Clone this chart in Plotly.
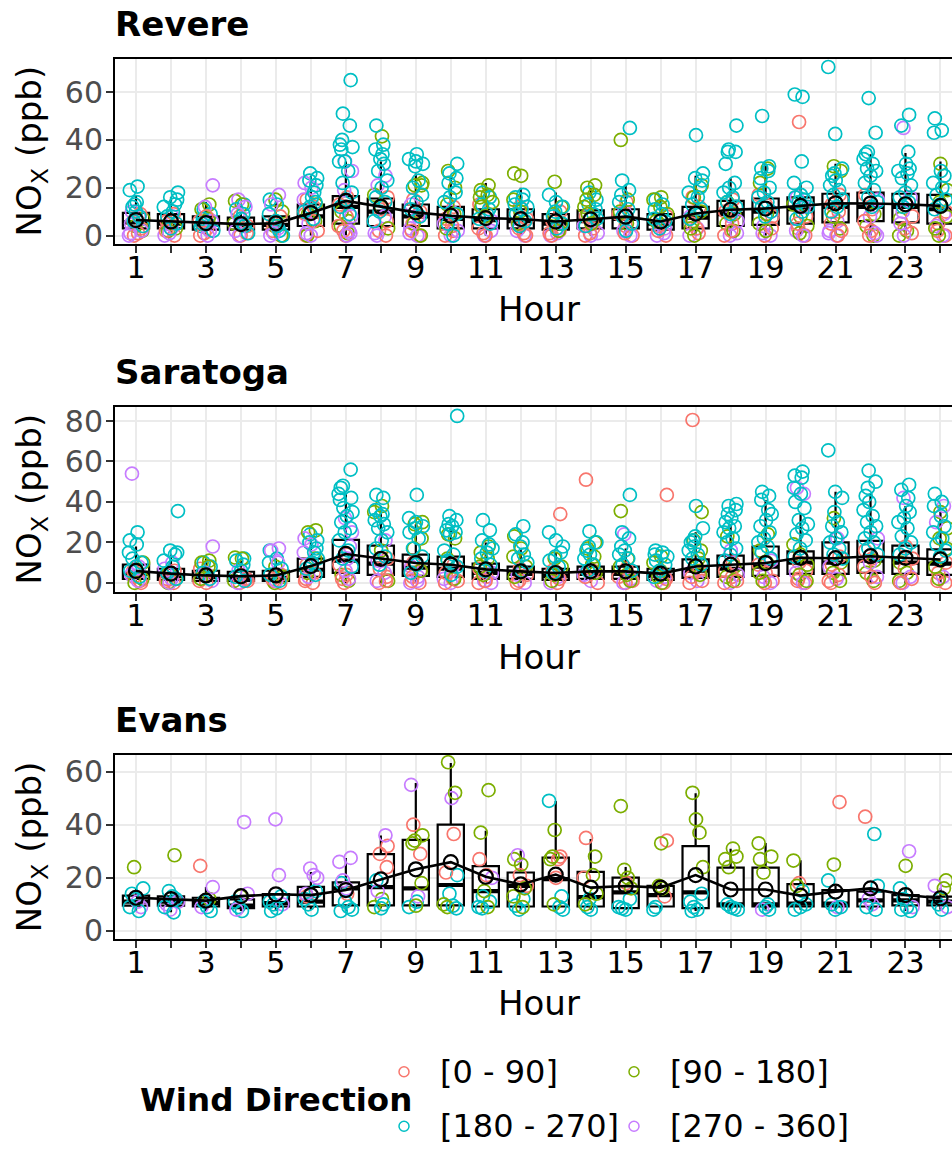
import plotly.graph_objects as go

# ---------------- data ----------------
HOURS = list(range(1, 25))
SITES = ["Revere", "Saratoga", "Evans"]
DIR_LABELS = ["[0 - 90]", "[90 - 180]", "[180 - 270]", "[270 - 360]"]
DIR_COLORS = ["#F8766D", "#7CAE00", "#00BFC4", "#C77CFF"]

# Revere NOx (ppb) observations per hour, by wind direction sector
revere_d1 = [[0,3,6,9,1],[0,6,9,2],[0,3,6,8,1],[0,4,8,1],[0,5,8,2],[15,12,0,6,9,2],[16,13,8,4,0,2],[16,11,6,2,0],
             [15,10,5,0,2],[12,7,2,0,4],[13,7,3,0,1],[12,7,3,0,1],[10,6,2,0,1],[8,3,0,5,1],[14,9,4,0,1],[8,4,0,2],
             [16,12,5,1,3],[15,10,5,0,2],[17,13,8,0,3],[47.5,8,3,0,5],[17,13,10,5,0,2],[17,11,6,2,0],[13,8,3,1],[10,5,0,2]]
revere_d2 = [[7,4,2],[5,3,2],[13,11,7],[14.5,13,5],[15,10,4,0],[13,9,6,0],[10,6,4,1],[41.5,17,12,3],
             [22,21,21,5,0],[27,20,13,9,3],[21,19,17,16,14,12,8],[26,25,15,10,5],[22.5,12,9,5,2],
             [21,20,17,15,12,9,5],[40,15,10,5],[16,15,12,9,6],[21,16,10,6,3,0],[14,9,5,2],
             [28,22,9,5,2],[13,8,4,1],[29,27,8,3],[9,4,0],[7,2,0],[30,19,14,8,3,0]]
revere_d3 = [[20.5,19,14,13,12,10,8,6,4],[18,16,15,13,12,10,8,5,3],[11,9,7,4,2,5],[13,11,9,7,4,1,5],
             [15,13,9,6,2,0,4],[26,24,23,21,18,16,14,12,10,7],
             [65,51,46,40,38,37,36,31,31,27,22,18,15,12,9],[46,38,36,34,32,30,27,23,20,16,14,10,6],
             [34,32,31,30,29,23,20,17,14,11,8],[30,26,24,22,18,16,14,0,5,9],[18,16,13,11,9,5,7],
             [17,16,15,13,12,11,9,6,4],[17,14,12,10,8,5,3],[18,15,13,11,9,7,4],[45,23,19,17,14,11,8,5,2],
             [15,13,11,9,6,3,7],[42,26,24,23,20,18,16,13,11,9,7],[46,36,35,35,30,22,20,18,16,14,12,9],
             [50,29,28,27,24,20,18,16,14,12,10,8],[58,59,31,22,20,17,16,15,14,12,10,7],
             [70.5,42.5,28,26,25,23,21,19,17,15,12,10],[57.5,43,35,34,32,30,28,27,25,22,19,16,14,12],
             [50.5,46,35,30,28,27,26,24,21,18,16,14,12],[49,44,43,27,25,22,20,17,15,13,11]]
revere_d4 = [[10,8,5,0,2,1],[8,0,3,1],[21,12,6,2,0],[15,12,9,2,0],[17,13,3,0,1],[22,20,15,0,5,1],[31,27,19,8,2,0,1],
             [25,21,8,0,1],[13,8,3,0,1],[10,5,0,2],[6,0,2],[5,0,2],[3,0,1],[4,0,1],[10,5,2,0],[3,0,1],[8,3,0],
             [8,6,0,1],[10,4,0,1],[16,12,2,0],[6,2,0,1],[15,8,0,1],[45,16,10,5,0],[9,4,0]]
revere_mean = [6.5,5.9,5.2,4.8,5.1,9.4,14.5,12.1,9.7,8.3,7.3,6.9,5.9,6.8,7.9,5.9,9.2,10.8,11.3,12.4,13.5,13.4,13.1,12.4]
revere_q1 = [3,3,2.5,2.5,2.5,4,5,4,4,3,3,3,2.5,3,3,2.5,3,4,4.5,5,5.5,6,5.5,5]
revere_med = [5.5,5,4.5,4.5,4.5,8,12,10,8,7,6.5,6,5,6,7,5,7.5,9,10,11,12,12,12,11]
revere_q3 = [9.5,9,8,7.5,8,13,16.5,15.5,13,12,11,11,9,10.5,11,9,12,14.5,15.5,16,17.5,18,17.5,17]
revere_lo = [0]*24
revere_hi = [17,16,14,13,15,25,31,31,26,25,22,20,18,20,21,17,25,24,30,22,30,34,34.5,31]

# Saratoga
saratoga_d1 = [[3,0,6,1],[6,2,0,1],[7,4,1,0],[4,1,0,2],[4,1,0,2],[9,5,2,0,1],[14,9,4,0,2],[12,7,3,0,1],[10,6,3,0,1],
               [9,5,2,0,1],[7,3,0,1],[7,4,1,0],[34,6,2,0],[51,6,3,0],[7,3,0,1],[43.5,5,2,0],[80.5,6,3,0,1],
               [10,6,3,0,1],[9,5,1,0],[10,6,2,0,1],[13,9,4,0,1],[16,12,8,3,0],[18,12,7,2,0],[10,5,0,1]]
saratoga_d2 = [[10,7,2,0],[5,2,0],[11,10,8,2],[12.5,12,1],[8,3,0],[26,25,12,5],[4,1],[38,35,16,1],
               [30,29,22,17,6],[24,22,12,2],[18,15,12,8,4],[23,17,13,8,3],[12,8,4,1],[20,17,13,9,5],
               [35.5,12,8,4,1],[13,10,6,3,0],[35,21,16,12,8,4],[23,8,3,1],[24,16,10,5,1],[19,14,9,4,1],
               [32,10,5,1],[11,5,1],[10,5,1],[35,27,22,17,8,2]]
saratoga_d3 = [[25,21,19,15,12,10,8,6,3],[35.5,16,15,14,11,8,5,2],[10,8,5,2],[12,11,9,6,3,1],
               [16,12,10,7,4,1],[24,21,20,17,15,12,10,7,4],
               [56,48,47,44,42,41,37,35,33,30,27,25,21,16,12,8],[43.5,42,36,34,33,31,29,27,25,21,17,13,9],
               [43.5,32,30,28,27,25,22,17,13,9,5],[82.5,33,31,29,28,26,25,24,16,14,11,8,4],
               [31,26,21,19,17,15,12,9,6],[28,24,20,18,14,12,10,6],[25,21,18,15,13,11,8,5],
               [25.5,20,18,16,14,12,9,6],[43.5,25,22,18,16,14,12,9,6],[16,15,14,13,11,9,6,3],
               [38,27,23,21,20,18,16,14,12,9],[39,38,36,34,32,30,28,27,25,22,20,17,14,11],
               [45,43,41,36,34,31,28,25,22,20,18,15,12],[55,53,52,47,44,40,37,31,29,27,24,21,17,13],
               [65.5,45,42,35,30,28,25,22,20,17,14,12],[55.5,50,47,43,40,36,33,30,28,25,22,20,17,14],
               [48.5,46,42,38,35,32,30,27,23,20,17,14],[44,40,38,33,28,25,22,19,16,13]]
saratoga_d4 = [[54,8,4,1],[10,7,2,0],[18,5,1],[6,2,0],[17,16,10,1],[22,19,15,8,3],[32,25,18,12,6,2],
               [21,11,5,1],[8,3,0,1],[6,2,0],[5,1,0],[4,0],[3,0],[4,1],[24,2,0],[3,1],[5,1],[16,4,0],[11,3,0],
               [47,44,5,0],[22,8,2],[22,10,3],[42,3,0],[38,30,3]]
saratoga_mean = [5.9,4.6,3.7,3.3,3.7,8.3,14.3,11.9,9.8,9.0,6.7,5.7,4.9,5.7,5.7,4.6,8.1,9.0,9.8,12.4,12.2,13.2,12.4,11.6]
saratoga_q1 = [2,1.5,1,1,1,3,5,4,3.5,3,2,2,1.5,2,2,1.5,2.5,3,3.5,4.5,4.5,5,4.5,4]
saratoga_med = [4.5,3.5,3,2.5,2.5,6.5,11,9.5,7.5,7,5,4.5,3.5,4.5,4.5,3.5,6,7,8,10,10,11,10,9.5]
saratoga_q3 = [9,7,6,5.5,6,12,21.3,18.4,14,13,9.5,8,7,8,8,7,11.6,13.5,18,15.6,20,20.8,18.4,16.6]
saratoga_lo = [0]*24
saratoga_hi = [18,14,12,11,12,24,44,38,29,27,20,17,15,17,17,14,25,29,41,34,45,44,38,35]

# Evans
evans_d1 = [[],[],[24.5],[],[],[13],[14],[32,29,24],[40,29],[36.5,22],[27,21],[21,17],[28,27,20],[35,20],
            [18],[34,13],[],[],[],[18],[48.5],[43],[],[]]
evans_d2 = [[24],[28.5],[12],[13],[],[],[],[12,9],[36,34,33,18,9.5],[63.5,52,10,9],[53,37,15,9],
            [27,25,16,13,9],[38,28,27,10],[28,21,14,10],[47,23,20,16],[33,17,16],[52,42,37,24],
            [31,28,27,24],[33,28,27,22],[26.5,17],[25],[],[24.5],[19,16]]
evans_d3 = [[16,14,12,9,7.5],[15,13,12,9,7],[11,9,7.5],[11,9,7.5],[13,11,10,8.5,7.5],[15,12,10,8],
            [18,11,9,8,7.5],[19,10,8.5],[11,9],[21,14,9.5,8.5],[13,11,9,8.5],[12,9.5,8],[49,13,9,8],
            [12,9,8],[12,9,8.5,8],[9,8],[14,11,9,8,7.5],[10,9,8.5,8],[10,9,8],[15,10,9,8],[19,10,9,8],
            [36.5,17,9,8],[16,12,9,8,7.5],[12,10,8]]
evans_d4 = [[11,9],[11,10,8],[16.5,9],[41,14,8],[42,21,10],[23.5,21,20,14],[27.5,26,19,16],[36,15],
            [55,13],[50],[20],[28.5],[],[],[],[],[],[],[8],[],[9],[12,10],[30,9],[17,9]]
evans_mean = [12.5,12.0,11.4,13.1,13.8,13.5,15.4,19.4,23.2,25.9,20.4,17.5,21.2,16.3,16.9,16.3,21.0,15.6,15.6,13.3,14.8,16.0,13.5,12.3]
evans_q1 = [9.5,9.5,9.2,8.6,9.2,9.2,9.6,9.6,9.6,9.6,9.2,9.2,9.2,9.2,8.6,9.2,8.6,9.2,9.2,9.2,9.2,9.2,9.6,9.6]
evans_med = [11,11,10.5,9.5,10.5,11,16,16.5,16,17.3,15,17,19.5,12.7,14.5,13.5,14.5,10,10,10.3,10.3,11.5,11.5,11]
evans_q3 = [13.3,13,12.5,11.9,13.9,16.6,18.3,28.9,34.3,40.0,24.4,22.0,27.6,22.2,20.1,17.0,31.9,23.8,23.8,17.6,15.4,14.8,13.5,12.9]
evans_lo = [7.5,7,7.5,7.5,7.5,8,7.5,8.5,9,8.5,8.5,8,8,8,8,8,7.5,8,8,8,8,8,7.5,8]
evans_hi = [16,15,16.5,14,13.9,22.2,27.5,35.9,55.7,63.2,37.7,30.3,48.9,34.6,24.1,18.5,51.8,30.9,33.1,26.6,17,15.5,16,16]

Y_TICKS = [[0, 20, 40, 60], [0, 20, 40, 60, 80], [0, 20, 40, 60]]
Y_RANGES = [[-3.43, 73.8], [-4.4, 86.9], [-3.1, 66.2]]

# ---------------- layout geometry (pixels) ----------------
W, H = 952, 1154
PANEL_LEFT = 115
PANELS_PX = [(56.7, 243.3), (408.3, 595.0), (760.0, 946.0)]  # (top, bottom)
TITLE_Y = [21.5, 373.0, 725.0]
HOUR_Y = [309.5, 661.0, 1010.5]
X_RANGE = [0.3995, 24.33]
FONT = "DejaVu Sans"


def px(x):
    return x / W


def py(y):
    return 1 - y / H


site_sets = [
    dict(dirs=[revere_d1, revere_d2, revere_d3, revere_d4], mean=revere_mean, q1=revere_q1,
         med=revere_med, q3=revere_q3, lo=revere_lo, hi=revere_hi),
    dict(dirs=[saratoga_d1, saratoga_d2, saratoga_d3, saratoga_d4], mean=saratoga_mean, q1=saratoga_q1,
         med=saratoga_med, q3=saratoga_q3, lo=saratoga_lo, hi=saratoga_hi),
    dict(dirs=[evans_d1, evans_d2, evans_d3, evans_d4], mean=evans_mean, q1=evans_q1,
         med=evans_med, q3=evans_q3, lo=evans_lo, hi=evans_hi),
]

fig = go.Figure()
GOLD = 0.6180339887
JIT = 0.21

for i, s in enumerate(site_sets):
    xa = "x" if i == 0 else f"x{i+1}"
    ya = "y" if i == 0 else f"y{i+1}"
    fig.add_trace(go.Box(
        x=HOURS, q1=s["q1"], median=s["med"], q3=s["q3"],
        lowerfence=s["lo"], upperfence=s["hi"], width=0.75, whiskerwidth=0,
        line=dict(color="black", width=2.2), fillcolor="white", boxpoints=False,
        xaxis=xa, yaxis=ya, showlegend=False, hoverinfo="skip"))
    fig.add_trace(go.Scatter(
        x=HOURS, y=s["med"], mode="markers",
        marker=dict(symbol="line-ew-open", size=18.7, color="black", line=dict(width=4.2, color="black")),
        xaxis=xa, yaxis=ya, showlegend=False, hoverinfo="skip"))
    xs, ys, cs = [], [], []
    for hi_, h in enumerate(HOURS):
        groups = [list(s["dirs"][d][hi_]) for d in range(4)]
        order = []
        while any(groups):
            for d in range(4):
                if groups[d]:
                    order.append((d, groups[d].pop(0)))
        for k, (d, v) in enumerate(order):
            u = (k * GOLD + 0.37 * h) % 1.0
            xs.append(h + (u - 0.5) * 2 * JIT)
            ys.append(v)
            cs.append(DIR_COLORS[d])
    fig.add_trace(go.Scatter(
        x=xs, y=ys, mode="markers",
        marker=dict(symbol="circle-open", size=13, color=cs, line=dict(width=1.7)),
        xaxis=xa, yaxis=ya, showlegend=False, hoverinfo="skip"))
    fig.add_trace(go.Scatter(
        x=HOURS, y=s["mean"], mode="lines+markers",
        line=dict(color="black", width=2.6),
        marker=dict(symbol="circle-open", size=14, color="black", line=dict(width=2.2)),
        xaxis=xa, yaxis=ya, showlegend=False, hoverinfo="skip"))

layout = dict(
    width=W, height=H, margin=dict(l=0, r=0, t=0, b=0),
    paper_bgcolor="white", plot_bgcolor="white", boxmode="overlay",
    font=dict(family=FONT, color="black"), showlegend=False,
)

ODD = [h for h in HOURS if h % 2]
EVEN = [h for h in HOURS if not h % 2]
annotations = []
for i, (top, bot) in enumerate(PANELS_PX):
    xk = "xaxis" if i == 0 else f"xaxis{i+1}"
    yk = "yaxis" if i == 0 else f"yaxis{i+1}"
    yanchor = "y" if i == 0 else f"y{i+1}"
    xanchor = "x" if i == 0 else f"x{i+1}"
    layout[xk] = dict(
        domain=[px(PANEL_LEFT), 1.0], anchor=yanchor, range=X_RANGE,
        tickmode="array", tickvals=ODD, ticktext=[str(h) for h in ODD],
        ticks="outside", ticklen=7, tickwidth=2, tickcolor="#333333", ticklabelstandoff=-11,
        minor=dict(tickmode="array", tickvals=EVEN, ticks="outside", ticklen=7, tickwidth=2,
                   tickcolor="#333333", showgrid=True, gridcolor="#EBEBEB", gridwidth=2),
        showline=True, linecolor="black", linewidth=2, mirror=True,
        showgrid=True, gridcolor="#EBEBEB", gridwidth=2, zeroline=False,
        tickfont=dict(family=FONT, size=30, color="black"),
    )
    layout[yk] = dict(
        domain=[py(bot), py(top)], anchor=xanchor, range=Y_RANGES[i],
        tickmode="array", tickvals=Y_TICKS[i],
        ticks="outside", ticklen=7, tickwidth=2, tickcolor="#333333", ticklabelstandoff=-3,
        showline=True, linecolor="black", linewidth=2,
        showgrid=True, gridcolor="#EBEBEB", gridwidth=2, zeroline=False,
        tickfont=dict(family=FONT, size=30, color="#4D4D4D"),
    )
    annotations.append(dict(text=f"<b>{SITES[i]}</b>", x=px(113), y=py(TITLE_Y[i]),
                            xref="paper", yref="paper", xanchor="left", yanchor="middle", showarrow=False,
                            font=dict(family=FONT, size=34, color="black")))
    annotations.append(dict(text="Hour", x=px(539), y=py(HOUR_Y[i]), xref="paper", yref="paper",
                            xanchor="center", yanchor="middle", showarrow=False,
                            font=dict(family=FONT, size=34, color="black")))
    annotations.append(dict(text="NO<sub>X</sub> (ppb)", x=px(31), y=py((top + bot) / 2), xref="paper",
                            yref="paper", xanchor="center", yanchor="middle", textangle=-90, showarrow=False,
                            font=dict(family=FONT, size=34, color="black")))

annotations.append(dict(text="<b>Wind Direction</b>", x=px(275.5), y=py(1109), xref="paper", yref="paper",
                        xanchor="center", yanchor="middle", showarrow=False,
                        font=dict(family=FONT, size=32.5, color="black")))
shapes = []
LEG_POS = [(404, 1080), (634, 1080), (404, 1135), (634, 1135)]
for (lx, ly), lab, col in zip(LEG_POS, DIR_LABELS, DIR_COLORS):
    shapes.append(dict(type="circle", xref="paper", yref="paper", xsizemode="pixel", ysizemode="pixel",
                       xanchor=px(lx), yanchor=py(ly), x0=-5, x1=5, y0=-5, y1=5,
                       line=dict(color=col, width=1.5)))
    annotations.append(dict(text=lab, x=px(lx + 34), y=py(ly), xref="paper", yref="paper",
                            xanchor="left", yanchor="middle", showarrow=False,
                            font=dict(family=FONT, size=32, color="black")))

layout["annotations"] = annotations
layout["shapes"] = shapes
fig.update_layout(**layout)

fig.write_html("out.html")
